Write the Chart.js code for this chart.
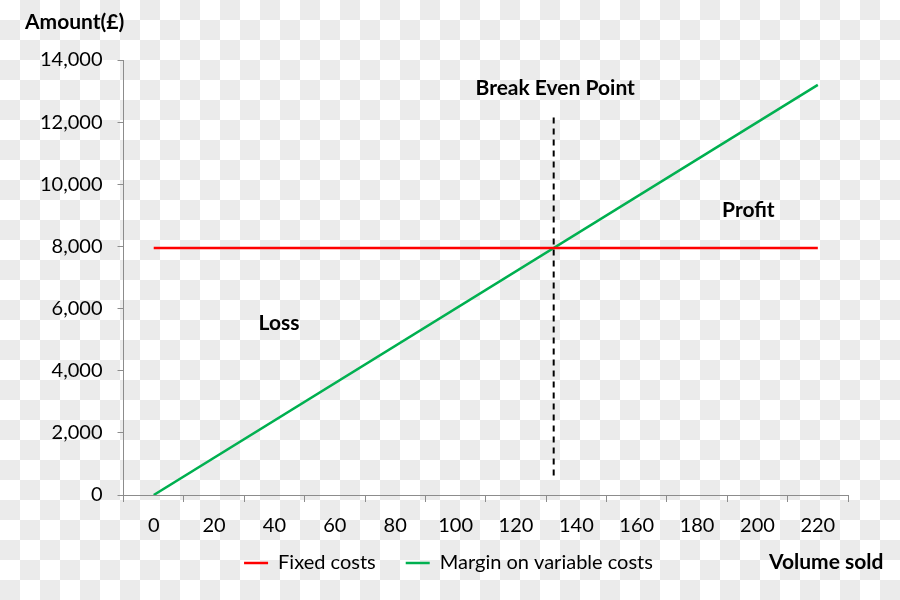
<!DOCTYPE html>
<html>
<head>
<meta charset="utf-8">
<script src="https://cdn.jsdelivr.net/npm/chart.js@4"></script>
<style>
  body {
    margin: 0;
    background-color: #ffffff;
    background-image: conic-gradient(#ebebeb 25%, transparent 0 50%, #ebebeb 0 75%, transparent 0);
    background-size: 40px 40px;
  }
  #wrap { width: 900px; height: 600px; }
</style>
</head>
<body>
<div id="wrap"><canvas id="breakEven"></canvas></div>
<script>
// x axis labels (volume sold)
const volumeLabels = ['0', '20', '40', '60', '80', '100', '120', '140', '160', '180', '200', '220'];
// y ticks
const amountTicks = [0, 2000, 4000, 6000, 8000, 10000, 12000, 14000];

// Fixed costs: flat line
const fixedVolume = [0, 220];
const fixedCosts = [7950, 7950];

// Margin on variable costs: straight line from origin
const marginVolume = [0, 220];
const marginCosts = [0, 13200];

// Break even point marker
const breakEvenVolume = [132.5, 132.5];
const breakEvenAmount = [12150, 480];

const toPoints = (xs, ys) => xs.map((x, i) => ({ x: x, y: ys[i] }));

const font = "Lato, 'Open Sans', sans-serif";
const grey = '#8c8c8c';

// draws the free text labels on the chart
const textLabels = {
  id: 'textLabels',
  afterDraw(chart) {
    const ctx = chart.ctx;
    const xs = chart.scales.xv;
    const ys = chart.scales.y;
    ctx.save();
    ctx.fillStyle = '#000';
    ctx.font = 'bold 21px ' + font;
    ctx.textAlign = 'center';
    ctx.textBaseline = 'middle';
    ctx.fillText('Break Even Point', xs.getPixelForValue(133), ys.getPixelForValue(13100));
    ctx.fillText('Profit', xs.getPixelForValue(197), ys.getPixelForValue(9170));
    ctx.fillText('Loss', xs.getPixelForValue(41.5), ys.getPixelForValue(5540));
    ctx.textAlign = 'left';
    ctx.fillText('Amount(£)', 25, 22);
    ctx.fillText('Volume sold', 769, 562);
    ctx.restore();
  }
};

// keep the legend short but with wide gaps between items, and nudge it
const legendFix = {
  id: 'legendFix',
  beforeLayout(chart) {
    const lg = chart.legend;
    if (lg && !lg._patched) {
      const fit = lg.fit;
      lg.fit = function () { fit.call(this); this.height = 31; };
      lg._patched = true;
    }
  },
  afterLayout(chart) {
    const lg = chart.legend;
    lg.left += 12; lg.right += 12;
    lg.top -= 27; lg.bottom = chart.height;
  }
};

new Chart(document.getElementById('breakEven'), {
  type: 'line',
  data: {
    labels: volumeLabels,
    datasets: [{
      label: 'Fixed costs',
      data: toPoints(fixedVolume, fixedCosts),
      xAxisID: 'xv',
      borderColor: '#ff0000',
      backgroundColor: '#ff0000',
      borderWidth: 2.5,
      pointRadius: 0,
    }, {
      label: 'Margin on variable costs',
      data: toPoints(marginVolume, marginCosts),
      xAxisID: 'xv',
      borderColor: '#00b050',
      backgroundColor: '#00b050',
      borderWidth: 2.5,
      pointRadius: 0,
    }, {
      label: 'Break even',
      data: toPoints(breakEvenVolume, breakEvenAmount),
      xAxisID: 'xv',
      borderColor: '#000000',
      borderWidth: 2,
      borderDash: [6, 5],
      pointRadius: 0,
    }],
  },
  options: {
    responsive: true,
    maintainAspectRatio: false,
    animation: false,
    layout: { padding: { top: 60, right: 52, left: 25, bottom: 19 } },
    plugins: {
      tooltip: { enabled: false },
      legend: {
        position: 'bottom',
        labels: {
          filter: item => item.datasetIndex < 2,
          usePointStyle: true,
          pointStyle: 'line',
          pointStyleWidth: 24,
          color: '#000',
          font: { family: font, size: 20 },
          padding: 30,
        },
      },
    },
    scales: {
      x: {
        type: 'category',
        offset: true,
        grid: { offset: true, drawOnChartArea: false, color: grey, tickLength: 7 },
        border: { color: grey },
        ticks: { color: '#000', font: { family: font, size: 20 }, padding: 12, maxRotation: 0 },
      },
      xv: {
        type: 'linear',
        display: false,
        min: -10,
        max: 230,
      },
      y: {
        min: 0,
        max: 14000,
        afterBuildTicks: axis => { axis.ticks = amountTicks.map(v => ({ value: v })); },
        grid: { drawOnChartArea: false, color: grey, tickLength: 6 },
        border: { color: grey },
        ticks: {
          color: '#000',
          font: { family: font, size: 20 },
          padding: 15,
          callback: v => v.toLocaleString('en-GB'),
        },
      },
    },
  },
  plugins: [textLabels, legendFix],
});
</script>
</body>
</html>
